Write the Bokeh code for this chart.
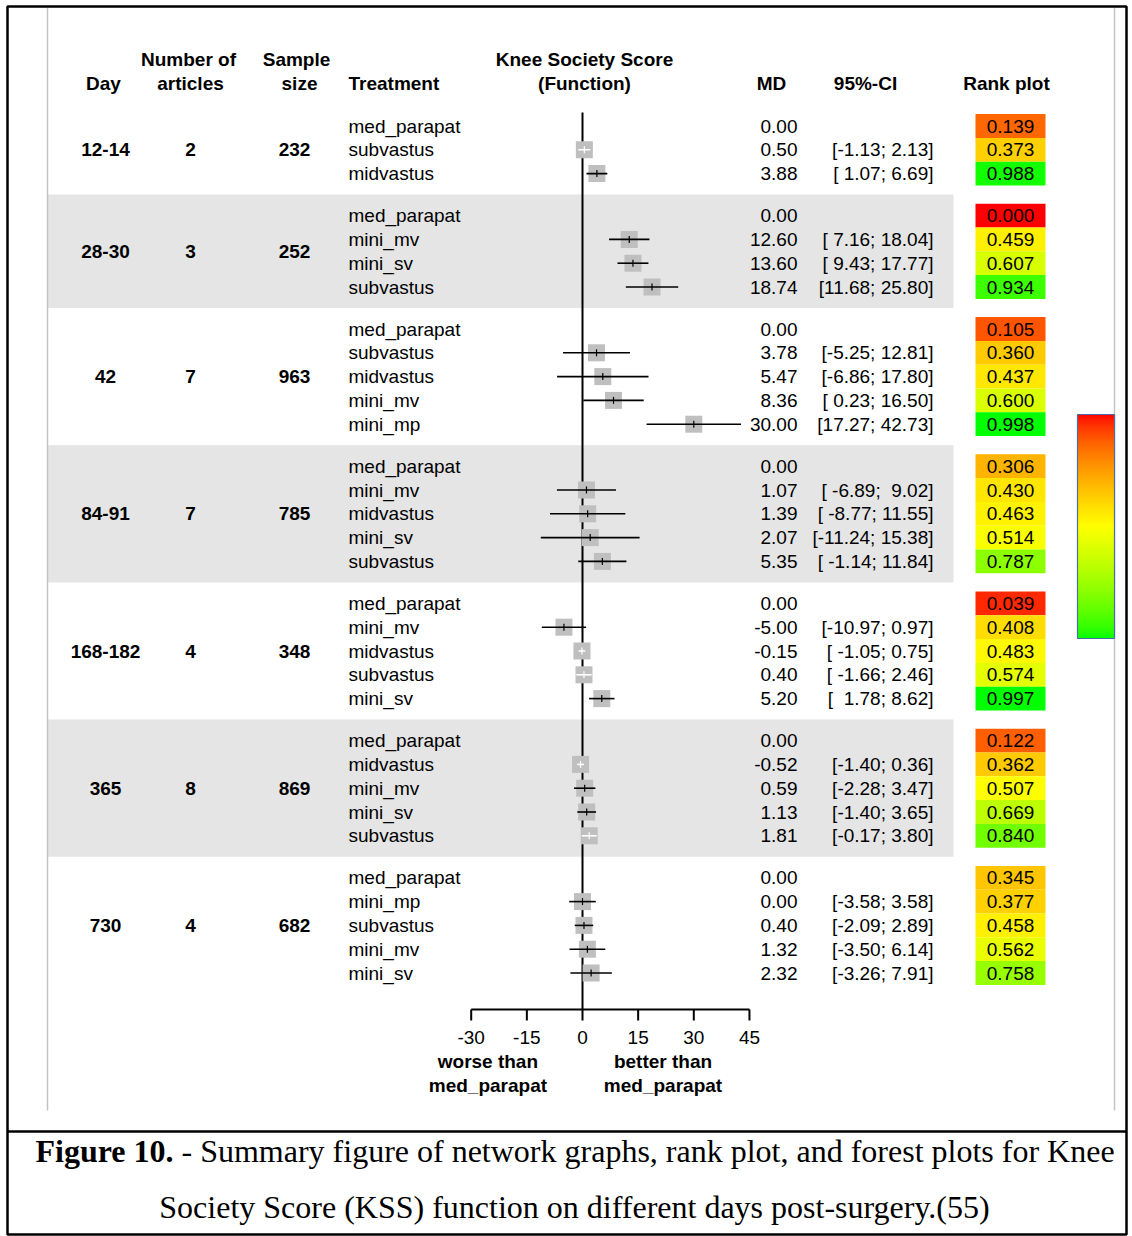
import numpy as np
from bokeh.plotting import figure
from bokeh.models import Range1d, ColumnDataSource, LinearColorMapper, ColorBar, FixedTicker
from bokeh.core.properties import value
from bokeh.embed import file_html
from bokeh.resources import INLINE

# ---------------- data ----------------
days = ["12-14", "28-30", "42", "84-91", "168-182", "365", "730"]
n_articles = [2, 3, 7, 7, 4, 8, 4]
sample_size = [232, 252, 963, 785, 348, 869, 682]

treatments = [
    ["med_parapat", "subvastus", "midvastus"],
    ["med_parapat", "mini_mv", "mini_sv", "subvastus"],
    ["med_parapat", "subvastus", "midvastus", "mini_mv", "mini_mp"],
    ["med_parapat", "mini_mv", "midvastus", "mini_sv", "subvastus"],
    ["med_parapat", "mini_mv", "midvastus", "subvastus", "mini_sv"],
    ["med_parapat", "midvastus", "mini_mv", "mini_sv", "subvastus"],
    ["med_parapat", "mini_mp", "subvastus", "mini_mv", "mini_sv"],
]
md = [
    [0.00, 0.50, 3.88],
    [0.00, 12.60, 13.60, 18.74],
    [0.00, 3.78, 5.47, 8.36, 30.00],
    [0.00, 1.07, 1.39, 2.07, 5.35],
    [0.00, -5.00, -0.15, 0.40, 5.20],
    [0.00, -0.52, 0.59, 1.13, 1.81],
    [0.00, 0.00, 0.40, 1.32, 2.32],
]
ci_lo = [
    [None, -1.13, 1.07],
    [None, 7.16, 9.43, 11.68],
    [None, -5.25, -6.86, 0.23, 17.27],
    [None, -6.89, -8.77, -11.24, -1.14],
    [None, -10.97, -1.05, -1.66, 1.78],
    [None, -1.40, -2.28, -1.40, -0.17],
    [None, -3.58, -2.09, -3.50, -3.26],
]
ci_hi = [
    [None, 2.13, 6.69],
    [None, 18.04, 17.77, 25.80],
    [None, 12.81, 17.80, 16.50, 42.73],
    [None, 9.02, 11.55, 15.38, 11.84],
    [None, 0.97, 0.75, 2.46, 8.62],
    [None, 0.36, 3.47, 3.65, 3.80],
    [None, 3.58, 2.89, 6.14, 7.91],
]
rank = [
    [0.139, 0.373, 0.988],
    [0.000, 0.459, 0.607, 0.934],
    [0.105, 0.360, 0.437, 0.600, 0.998],
    [0.306, 0.430, 0.463, 0.514, 0.787],
    [0.039, 0.408, 0.483, 0.574, 0.997],
    [0.122, 0.362, 0.507, 0.669, 0.840],
    [0.345, 0.377, 0.458, 0.562, 0.758],
]
axis_ticks = [-30, -15, 0, 15, 30, 45]
axis_tick_labels = ["-30", "-15", "0", "15", "30", "45"]

# ---------------- layout constants (picture pixels) ----------------
W, H = 1132, 1236
ROW0, PITCH, GAP = 125.5, 23.8, 18.2
ZERO_PX, PX_PER_UNIT = 582.0, 3.71
SQ = 17
AXIS_Y = 1009
X_DAY, X_ART, X_SAMPLE, X_TREAT = 105, 190, 294, 348
X_MD, X_CI, X_RANK, RANK_W = 797, 933, 1010, 70
BAND_L, BAND_R = 47, 953
SANS = value("Liberation Sans")
SERIF = value("Liberation Serif")
FS = "19px"
PAD = "\u00a0"

p = figure(width=W, height=H, x_range=Range1d(0, W), y_range=Range1d(H, 0),
           output_backend="svg", toolbar_location=None, min_border=0,
           x_axis_location=None, y_axis_location=None, outline_line_color=None)
p.grid.visible = False
p.background_fill_color = "white"
p.extra_x_ranges = {"md": Range1d((0 - ZERO_PX) / PX_PER_UNIT, (W - ZERO_PX) / PX_PER_UNIT)}

# flatten rows
rows = dict(y=[], treat=[], md=[], lo=[], hi=[], rank=[], grp=[])
group_y = []
start = 0
for g, names in enumerate(treatments):
    ys = [ROW0 + (start + i) * PITCH + g * GAP for i in range(len(names))]
    group_y.append(ys)
    start += len(names)
    rows["y"] += ys
    rows["treat"] += names
    rows["md"] += md[g]
    rows["lo"] += [np.nan if v is None else v for v in ci_lo[g]]
    rows["hi"] += [np.nan if v is None else v for v in ci_hi[g]]
    rows["rank"] += rank[g]
    rows["grp"] += [g] * len(names)

# CI strings padded like R output
ci_txt = []
for g in range(len(treatments)):
    los = [f"{v:.2f}" for v in ci_lo[g] if v is not None]
    his = [f"{v:.2f}" for v in ci_hi[g] if v is not None]
    wl = max(len(s) for s in los)
    wh = max(len(s) for s in his)
    ci_txt.append("")
    for a, b in zip(los, his):
        ci_txt.append("[" + a.rjust(wl, PAD) + ";" + PAD + b.rjust(wh, PAD) + "]")
rows["ci"] = ci_txt
rows["mdtxt"] = [f"{v:.2f}" for v in rows["md"]]
rows["ranktxt"] = [f"{v:.3f}" for v in rows["rank"]]
src = ColumnDataSource(rows)

# bands
band_top, band_bot = [], []
for g in range(1, len(treatments), 2):
    band_top.append(group_y[g][0] - (PITCH + GAP) / 2)
    band_bot.append(group_y[g][-1] + (PITCH + GAP) / 2)
p.quad(left=BAND_L, right=BAND_R, top=band_top, bottom=band_bot, fill_color="#E5E5E5", line_color=None)

# frame lines
p.segment(x0=[BAND_L, 1114], x1=[BAND_L, 1114], y0=[7, 7], y1=[1110, 1110], line_color="#C4C4C4", line_width=1.5)
p.quad(left=7, right=1126, top=6, bottom=1234, fill_color=None, line_color="black", line_width=2.5)
p.segment(x0=7, x1=1126, y0=1131, y1=1131, line_color="black", line_width=2.5)

# forest: zero line
p.segment(x0=0, x1=0, y0=112, y1=AXIS_Y, x_range_name="md", line_color="black", line_width=2)

# forest marks
est = {k: [] for k in ["y", "md", "lo", "hi", "col"]}
for y, m, lo, hi in zip(rows["y"], rows["md"], rows["lo"], rows["hi"]):
    if np.isnan(lo):
        continue
    est["y"].append(y); est["md"].append(m); est["lo"].append(lo); est["hi"].append(hi)
    est["col"].append("white" if (hi - lo) * PX_PER_UNIT < SQ else "black")
est_src = ColumnDataSource(est)
p.rect(x="md", y="y", width=SQ, height=SQ, width_units="screen", height_units="screen",
       source=est_src, x_range_name="md", fill_color="#BFBFBF", line_color=None)
p.segment(x0="lo", x1="hi", y0="y", y1="y", source=est_src, x_range_name="md",
          line_color="col", line_width=1.6)
p.rect(x="md", y="y", width=1.2, height=7, width_units="screen", height_units="screen",
       source=est_src, x_range_name="md", fill_color="col", line_color=None)

# forest axis
p.segment(x0=axis_ticks[0], x1=axis_ticks[-1], y0=AXIS_Y, y1=AXIS_Y, x_range_name="md",
          line_color="black", line_width=2)
p.segment(x0=axis_ticks, x1=axis_ticks, y0=AXIS_Y, y1=AXIS_Y + 11, x_range_name="md",
          line_color="black", line_width=2)
p.text(x=axis_ticks, y=[1037] * len(axis_ticks), text=axis_tick_labels, x_range_name="md",
       text_align="center", text_baseline="middle", text_font=SANS, text_font_size=FS)
p.text(x=[-25.5, -25.5, 21.7, 21.7], y=[1061, 1085, 1061, 1085],
       text=["worse than", "med_parapat", "better than", "med_parapat"], x_range_name="md",
       text_align="center", text_baseline="middle", text_font=SANS, text_font_size=FS,
       text_font_style="bold")

# rank boxes
palette = []
for t in np.linspace(0, 1, 256):
    if t < 0.5:
        r, gg = 255, 255 * (2 * t) ** 0.7
    else:
        r, gg = 255 * (2 * (1 - t)) ** 0.7, 255
    palette.append("#%02x%02x%02x" % (int(round(r)), int(round(gg)), 0))
mapper = LinearColorMapper(palette=palette, low=0, high=1)
p.rect(x=X_RANK, y="y", width=RANK_W, height=PITCH, source=src,
       fill_color={"field": "rank", "transform": mapper}, line_color=None)
p.text(x=X_RANK, y="y", text="ranktxt", source=src, text_align="center", text_baseline="middle",
       text_font=SANS, text_font_size=FS)

# row texts
p.text(x=X_TREAT, y="y", text="treat", source=src, text_align="left", text_baseline="middle",
       text_font=SANS, text_font_size=FS)
p.text(x=X_MD, y="y", text="mdtxt", source=src, text_align="right", text_baseline="middle",
       text_font=SANS, text_font_size=FS)
p.text(x=X_CI, y="y", text="ci", source=src, text_align="right", text_baseline="middle",
       text_font=SANS, text_font_size=FS)

gmid = [(ys[0] + ys[-1]) / 2 for ys in group_y]
for xpos, col in [(X_DAY, days), (X_ART, [str(v) for v in n_articles]), (X_SAMPLE, [str(v) for v in sample_size])]:
    p.text(x=xpos, y=gmid, text=col, text_align="center", text_baseline="middle",
           text_font=SANS, text_font_size=FS, text_font_style="bold")

# headers
head_text = ["Day", "Number of", "articles", "Sample", "size", "Treatment",
             "Knee Society Score", "(Function)", "MD", "95%-CI", "Rank plot"]
head_x = [103, 188, 190, 296, 299, X_TREAT, 584, 584, 771, 865, 1006]
head_y = [83, 59, 83, 59, 83, 83, 59, 83, 83, 83, 83]
head_align = ["center"] * 5 + ["left"] + ["center"] * 5
p.text(x=head_x, y=head_y, text=head_text, text_align=head_align, text_baseline="middle",
       text_font=SANS, text_font_size=FS, text_font_style="bold")

# colour bar
bar_mapper = LinearColorMapper(palette=palette[::-1], low=0, high=1)
cb = ColorBar(color_mapper=bar_mapper, location=(1077, H - 638), width=37, height=224,
              padding=0, margin=0, ticker=FixedTicker(ticks=[]), major_tick_line_color=None,
              minor_tick_line_color=None, major_label_text_font_size="0px",
              bar_line_color="#4A6FA5", bar_line_width=1.2, border_line_color=None,
              background_fill_color=None)
p.add_layout(cb, "center")

# caption
p.text(x=[35], y=[1150], text=["Figure 10."], text_align="left", text_baseline="alphabetic",
       text_font=SERIF, text_font_size="32px", text_font_style="bold")
p.text(x=[181], y=[1150], text=["- Summary figure of network graphs, rank plot, and forest plots for Knee"],
       text_align="left", text_baseline="alphabetic", text_font=SERIF, text_font_size="32px")
p.text(x=[574], y=[1206], text=["Society Score (KSS) function on different days post-surgery.(55)"],
       text_align="center", text_baseline="alphabetic", text_font=SERIF, text_font_size="32px")

open("out.html", "w").write(file_html(p, INLINE))
